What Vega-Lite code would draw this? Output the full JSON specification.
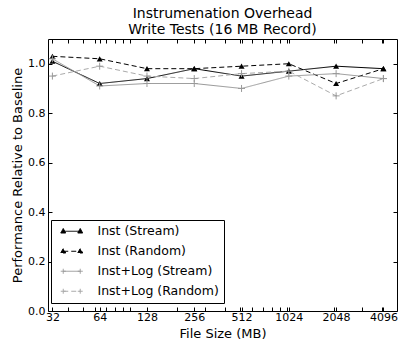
{
  "$schema": "https://vega.github.io/schema/vega-lite/v6.json",
  "width": 349,
  "height": 272,
  "autosize": "none",
  "padding": {"left": 48, "top": 39, "right": 4, "bottom": 31},
  "background": "white",
  "config": {
    "font": "DejaVu Sans",
    "view": {"stroke": "black", "strokeWidth": 1},
    "axis": {"grid": false, "domain": false, "tickColor": "black", "labelColor": "black", "titleColor": "black", "labelFont": "DejaVu Sans", "titleFont": "DejaVu Sans", "titleFontWeight": "normal"}
  },
  "title": {
    "text": ["Instrumenation Overhead", "Write Tests (16 MB Record)"],
    "font": "DejaVu Sans",
    "fontSize": 14,
    "fontWeight": "normal",
    "color": "black",
    "offset": 2,
    "lineHeight": 16
  },
  "data": {
    "values": [
      {"size": 32, "series": "Inst (Stream)", "value": 1.01},
      {"size": 64, "series": "Inst (Stream)", "value": 0.92},
      {"size": 128, "series": "Inst (Stream)", "value": 0.94},
      {"size": 256, "series": "Inst (Stream)", "value": 0.98},
      {"size": 512, "series": "Inst (Stream)", "value": 0.95},
      {"size": 1024, "series": "Inst (Stream)", "value": 0.97},
      {"size": 2048, "series": "Inst (Stream)", "value": 0.99},
      {"size": 4096, "series": "Inst (Stream)", "value": 0.98},
      {"size": 32, "series": "Inst (Random)", "value": 1.03},
      {"size": 64, "series": "Inst (Random)", "value": 1.02},
      {"size": 128, "series": "Inst (Random)", "value": 0.98},
      {"size": 256, "series": "Inst (Random)", "value": 0.98},
      {"size": 512, "series": "Inst (Random)", "value": 0.99},
      {"size": 1024, "series": "Inst (Random)", "value": 1.0},
      {"size": 2048, "series": "Inst (Random)", "value": 0.92},
      {"size": 4096, "series": "Inst (Random)", "value": 0.98},
      {"size": 32, "series": "Inst+Log (Stream)", "value": 1.02},
      {"size": 64, "series": "Inst+Log (Stream)", "value": 0.91},
      {"size": 128, "series": "Inst+Log (Stream)", "value": 0.92},
      {"size": 256, "series": "Inst+Log (Stream)", "value": 0.92},
      {"size": 512, "series": "Inst+Log (Stream)", "value": 0.90},
      {"size": 1024, "series": "Inst+Log (Stream)", "value": 0.95},
      {"size": 2048, "series": "Inst+Log (Stream)", "value": 0.96},
      {"size": 4096, "series": "Inst+Log (Stream)", "value": 0.94},
      {"size": 32, "series": "Inst+Log (Random)", "value": 0.95},
      {"size": 64, "series": "Inst+Log (Random)", "value": 0.99},
      {"size": 128, "series": "Inst+Log (Random)", "value": 0.95},
      {"size": 256, "series": "Inst+Log (Random)", "value": 0.94},
      {"size": 512, "series": "Inst+Log (Random)", "value": 0.96},
      {"size": 1024, "series": "Inst+Log (Random)", "value": 0.97},
      {"size": 2048, "series": "Inst+Log (Random)", "value": 0.87},
      {"size": 4096, "series": "Inst+Log (Random)", "value": 0.94}
    ]
  },
  "resolve": {"axis": {"x": "independent", "y": "independent"}},
  "layer": [
    {
      "mark": {"type": "line", "strokeWidth": 1},
      "encoding": {
        "x": {
          "field": "size", "type": "quantitative",
          "scale": {"type": "log", "base": 2, "domain": [30, 5000], "nice": false},
          "axis": {
            "values": [32, 40, 50, 60, 64, 70, 80, 90, 100, 128, 200, 256, 300, 400, 500, 512, 600, 700, 800, 900, 1000, 1024, 2000, 2048, 3000, 4000, 4096],
            "labelExpr": "indexof([32,64,128,256,512,1024,2048,4096], datum.value) >= 0 ? format(datum.value, 'd') : ''",
            "title": "File Size (MB)", "titleFontSize": 13, "labelFontSize": 11, "tickSize": -4, "labelPadding": 4, "titlePadding": 5, "labelFlush": false,
            "encode": {"ticks": {"update": {"y2": {"signal": "indexof([32,64,128,256,512,1024,2048,4096], datum.value) >= 0 ? -4 : -2"}}}}
          }
        },
        "y": {
          "field": "value", "type": "quantitative",
          "scale": {"domain": [0, 1.1], "nice": false},
          "axis": {"values": [0, 0.2, 0.4, 0.6, 0.8, 1.0], "format": ".1f", "title": "Performance Relative to Baseline", "titleFontSize": 13, "labelFontSize": 11, "tickSize": -4, "labelPadding": 7, "titlePadding": 3}
        },
        "color": {
          "field": "series", "type": "nominal",
          "scale": {"domain": ["Inst (Stream)", "Inst (Random)", "Inst+Log (Stream)", "Inst+Log (Random)"], "range": ["#000000", "#000000", "#999999", "#aaaaaa"]},
          "legend": {
            "title": null, "orient": "none", "legendX": 3, "legendY": 181,
            "strokeColor": "black", "fillColor": "white", "padding": 5,
            "labelFontSize": 12.5, "labelFont": "DejaVu Sans", "labelColor": "black",
            "symbolSize": 121, "symbolStrokeWidth": 1, "rowPadding": 7, "labelOffset": 29, "cornerRadius": 0,
            "encode": {"symbols": {"update": {
              "shape": {"signal": "indexof(datum.value, 'Log') >= 0 ? 'M0.18,0L3.27,0M0.18,-0.45L0.18,0.45M-0.27,0L0.63,0M3.27,-0.45L3.27,0.45M2.82,0L3.72,0' : 'M0.18,0L3.27,0M-0.27,0.32L0.18,-0.5L0.63,0.32ZM2.82,0.32L3.27,-0.5L3.72,0.32Z'"},
              "fill": {"signal": "indexof(datum.value, 'Log') >= 0 ? 'transparent' : 'black'"}
            }}}
          }
        },
        "strokeDash": {
          "field": "series", "type": "nominal",
          "scale": {"domain": ["Inst (Stream)", "Inst (Random)", "Inst+Log (Stream)", "Inst+Log (Random)"], "range": [[1, 0], [5, 3], [1, 0], [5, 3]]},
          "legend": {
            "title": null, "orient": "none", "legendX": 3, "legendY": 181,
            "strokeColor": "black", "fillColor": "white", "padding": 5,
            "labelFontSize": 12.5, "labelFont": "DejaVu Sans", "labelColor": "black",
            "symbolSize": 121, "symbolStrokeWidth": 1, "rowPadding": 7, "labelOffset": 29, "cornerRadius": 0,
            "encode": {"symbols": {"update": {
              "shape": {"signal": "indexof(datum.value, 'Log') >= 0 ? 'M0.18,0L3.27,0M0.18,-0.45L0.18,0.45M-0.27,0L0.63,0M3.27,-0.45L3.27,0.45M2.82,0L3.72,0' : 'M0.18,0L3.27,0M-0.27,0.32L0.18,-0.5L0.63,0.32ZM2.82,0.32L3.27,-0.5L3.72,0.32Z'"},
              "fill": {"signal": "indexof(datum.value, 'Log') >= 0 ? 'transparent' : 'black'"}
            }}}
          }
        }
      }
    },
    {
      "transform": [{"filter": "indexof(datum.series, 'Log') < 0"}],
      "mark": {"type": "point", "shape": "triangle-up", "filled": true, "color": "black", "size": 36, "opacity": 1},
      "encoding": {
        "x": {"field": "size", "type": "quantitative", "axis": null},
        "y": {"field": "value", "type": "quantitative", "axis": null}
      }
    },
    {
      "transform": [{"filter": "indexof(datum.series, 'Log') >= 0"}],
      "mark": {"type": "point", "shape": "M-1,0L1,0M0,-1L0,1", "filled": false, "color": "#999999", "size": 49, "strokeWidth": 1, "opacity": 1},
      "encoding": {
        "x": {"field": "size", "type": "quantitative", "axis": {
          "orient": "top",
          "values": [32, 40, 50, 60, 64, 70, 80, 90, 100, 128, 200, 256, 300, 400, 500, 512, 600, 700, 800, 900, 1000, 1024, 2000, 2048, 3000, 4000, 4096],
          "labels": false, "title": null, "tickSize": -4,
          "encode": {"ticks": {"update": {"y2": {"signal": "indexof([32,64,128,256,512,1024,2048,4096], datum.value) >= 0 ? 4 : 2"}}}}
        }},
        "y": {"field": "value", "type": "quantitative", "axis": {"orient": "right", "values": [0, 0.2, 0.4, 0.6, 0.8, 1.0], "labels": false, "title": null, "tickSize": -4}}
      }
    }
  ]
}
